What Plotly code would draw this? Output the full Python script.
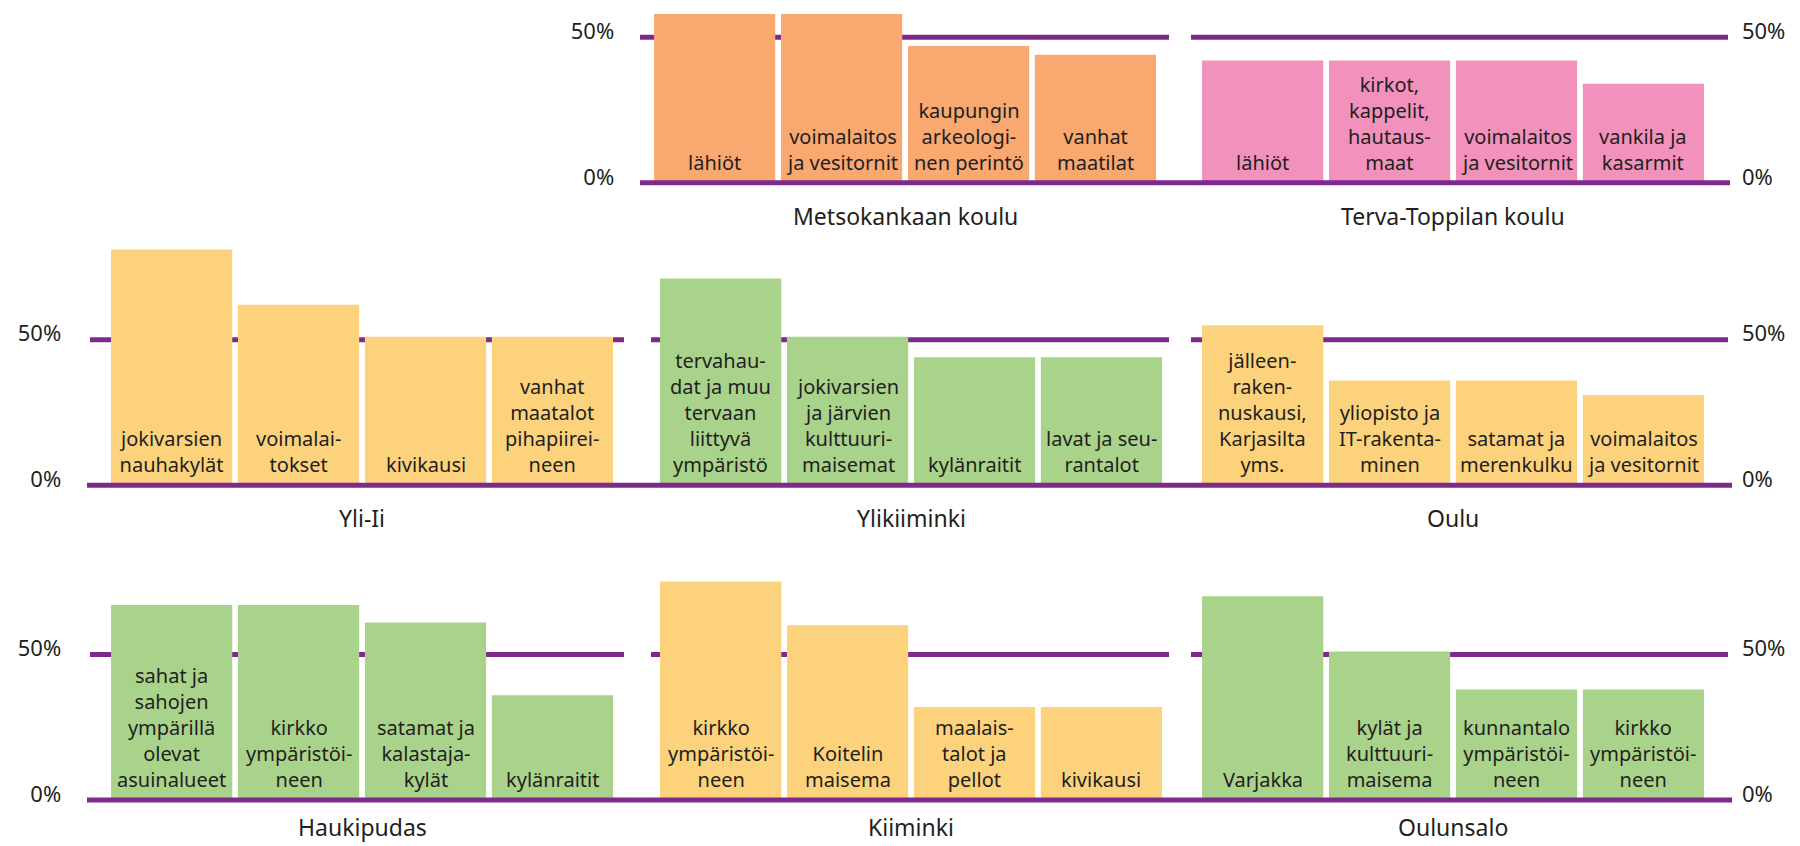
import plotly.graph_objects as go

W, H = 1800, 846

ORANGE = "#F9A870"
PINK = "#F291BC"
YELLOW = "#FDD27D"
GREEN = "#A9D38B"
PURPLE = "#7E2A8D"
INK = "#231F20"
FONT = "Noto Sans, Lato, sans-serif"

# --- data (share of answers, %) ---
metsokangas_labels = ["lähiöt", "voimalaitos<br>ja vesitornit", "kaupungin<br>arkeologi-<br>nen perintö", "vanhat<br>maatilat"]
metsokangas_values = [58, 58, 47, 44]

terva_labels = ["lähiöt", "kirkot,<br>kappelit,<br>hautaus-<br>maat", "voimalaitos<br>ja vesitornit", "vankila ja<br>kasarmit"]
terva_values = [42, 42, 42, 34]

yliii_labels = ["jokivarsien<br>nauhakylät", "voimalai-<br>tokset", "kivikausi", "vanhat<br>maatalot<br>pihapiirei-<br>neen"]
yliii_values = [81, 62, 51, 51]

ylikiiminki_labels = ["tervahau-<br>dat ja muu<br>tervaan<br>liittyvä<br>ympäristö", "jokivarsien<br>ja järvien<br>kulttuuri-<br>maisemat", "kylänraitit", "lavat ja seu-<br>rantalot"]
ylikiiminki_values = [71, 51, 44, 44]

oulu_labels = ["jälleen-<br>raken-<br>nuskausi,<br>Karjasilta<br>yms.", "yliopisto ja<br>IT-rakenta-<br>minen", "satamat ja<br>merenkulku", "voimalaitos<br>ja vesitornit"]
oulu_values = [55, 36, 36, 31]

haukipudas_labels = ["sahat ja<br>sahojen<br>ympärillä<br>olevat<br>asuinalueet", "kirkko<br>ympäristöi-<br>neen", "satamat ja<br>kalastaja-<br>kylät", "kylänraitit"]
haukipudas_values = [67, 67, 61, 36]

kiiminki_labels = ["kirkko<br>ympäristöi-<br>neen", "Koitelin<br>maisema", "maalais-<br>talot ja<br>pellot", "kivikausi"]
kiiminki_values = [75, 60, 32, 32]

oulunsalo_labels = ["Varjakka", "kylät ja<br>kulttuuri-<br>maisema", "kunnantalo<br>ympäristöi-<br>neen", "kirkko<br>ympäristöi-<br>neen"]
oulunsalo_values = [70, 51, 38, 38]

tick_vals = [0, 50]
tick_text = ["0%", "50%"]

# --- geometry (pixels) ---
PX_PER_PCT = 2.92
row_zero = [183.3, 486.5, 802.0]
row_top = [62, 86]
row_title_y = [217, 519, 829]
col_dom = {1: (108.2, 615.9), 2: (657.2, 1164.9), 3: (1199.2, 1706.9), "2top": (651.2, 1158.9)}
seg50 = {1: (90, 624), 2: (651, 1169), 3: (1191, 1728), "2top": (640, 1169)}
zero_line = [(640, 1730), (87, 1732), (87, 1732)]

# title, labels, values, colour, row, column, tick side, tick standoff
panels = [
    ("Metsokankaan koulu", metsokangas_labels, metsokangas_values, ORANGE, 0, "2top", "left", 36),
    ("Terva-Toppilan koulu", terva_labels, terva_values, PINK, 0, 3, "right", 34),
    ("Yli-Ii", yliii_labels, yliii_values, YELLOW, 1, 1, "left", 46),
    ("Ylikiiminki", ylikiiminki_labels, ylikiiminki_values, GREEN, 1, 2, None, 0),
    ("Oulu", oulu_labels, oulu_values, YELLOW, 1, 3, "right", 34),
    ("Haukipudas", haukipudas_labels, haukipudas_values, GREEN, 2, 1, "left", 46),
    ("Kiiminki", kiiminki_labels, kiiminki_values, YELLOW, 2, 2, None, 0),
    ("Oulunsalo", oulunsalo_labels, oulunsalo_values, GREEN, 2, 3, "right", 34),
]


def px_x(v):
    return v / W


def px_y(v):
    return 1 - v / H


fig = go.Figure()
shapes, annotations = [], []
row_axis = {}
layout_axes = {}

for i, (title, labels, values, color, row, col, side, standoff) in enumerate(panels, start=1):
    xa, ya = f"x{i}", f"y{i}"
    fig.add_trace(go.Bar(
        x=labels, y=values, xaxis=xa, yaxis=ya,
        marker=dict(color=color, line=dict(width=0)),
        hoverinfo="skip", showlegend=False,
    ))

    top = row_top[0] if row == 0 else row_top[1]
    y0 = -2
    zero = row_zero[row]
    dom_y = [px_y(zero - y0 * PX_PER_PCT), px_y(zero - top * PX_PER_PCT)]
    dl, dr = col_dom[col]

    layout_axes[f"xaxis{i}"] = dict(
        domain=[px_x(dl), px_x(dr)], anchor=ya, type="category",
        range=[-0.5, len(labels) - 0.5], showticklabels=False, showgrid=False,
        zeroline=False, showline=False, ticks="", fixedrange=True,
    )
    layout_axes[f"yaxis{i}"] = dict(
        domain=dom_y, anchor=xa, range=[y0, top], showgrid=False, zeroline=False,
        showline=False, ticks="", fixedrange=True,
        tickvals=tick_vals, ticktext=tick_text, showticklabels=side is not None,
        side=side or "left", ticklabelstandoff=standoff, ticklabelshift=-6,
        tickfont=dict(family=FONT, size=22, color=INK),
    )

    # 50 % reference segment behind the bars
    s0, s1 = seg50[col]
    shapes.append(dict(type="line", xref="paper", yref=ya, x0=px_x(s0), x1=px_x(s1),
                       y0=50, y1=50, line=dict(color=PURPLE, width=5), layer="below"))
    row_axis.setdefault(row, ya)

    for lab in labels:
        annotations.append(dict(
            x=lab, y=0, xref=xa, yref=ya, text=lab, showarrow=False,
            xanchor="center", yanchor="bottom", yshift=5, align="center",
            font=dict(family=FONT, size=20, color=INK),
        ))

    annotations.append(dict(
        x=px_x((dl + dr) / 2), y=px_y(row_title_y[row]), xref="paper", yref="paper",
        text=title, showarrow=False, xanchor="center", yanchor="middle",
        font=dict(family=FONT, size=23, color=INK),
    ))

# 0 % base line across each row
for row, ya in row_axis.items():
    a, b = zero_line[row]
    shapes.append(dict(type="line", xref="paper", yref=ya, x0=px_x(a), x1=px_x(b),
                       y0=0, y1=0, line=dict(color=PURPLE, width=5), layer="above"))

fig.update_layout(
    width=W, height=H,
    margin=dict(l=0, r=0, t=0, b=0),
    paper_bgcolor="white", plot_bgcolor="rgba(0,0,0,0)",
    bargap=0.045,
    shapes=shapes, annotations=annotations,
    font=dict(family=FONT, color=INK),
    **layout_axes,
)

fig.write_html(
    "out.html",
    config={"displayModeBar": False},
    post_script="document.body.style.margin='0';document.body.style.overflow='hidden';",
)
